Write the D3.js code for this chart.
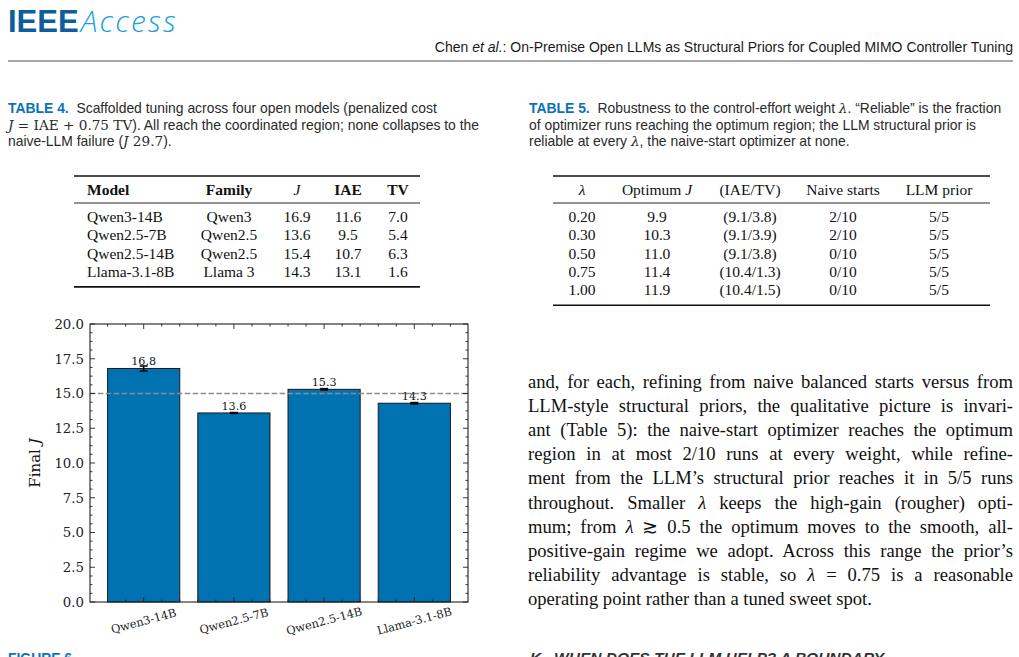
<!DOCTYPE html>
<html><head><meta charset="utf-8">
<script src="https://cdn.jsdelivr.net/npm/d3@7"></script>
<style>
html,body{margin:0;padding:0;background:#fff;overflow:hidden;}
svg{display:block;}
</style></head><body>
<svg id="page" width="1019" height="657"></svg>
<script>
// ---------- data ----------
const models = ["Qwen3-14B", "Qwen2.5-7B", "Qwen2.5-14B", "Llama-3.1-8B"];
const meanJ = [16.8, 13.6, 15.3, 14.3];
const stdJ = [0.18, 0.03, 0.05, 0.05];
const refJ = 15.0;
const yTicks = [0, 2.5, 5, 7.5, 10, 12.5, 15, 17.5, 20];
const yLabel = "Final ";

const t4Header = ["Model", "Family", "J", "IAE", "TV"];
const t4Model = ["Qwen3-14B", "Qwen2.5-7B", "Qwen2.5-14B", "Llama-3.1-8B"];
const t4Family = ["Qwen3", "Qwen2.5", "Qwen2.5", "Llama 3"];
const t4J = ["16.9", "13.6", "15.4", "14.3"];
const t4IAE = ["11.6", "9.5", "10.7", "13.1"];
const t4TV = ["7.0", "5.4", "6.3", "1.6"];

const t5Header = ["λ", "Optimum J", "(IAE/TV)", "Naive starts", "LLM prior"];
const t5Lambda = ["0.20", "0.30", "0.50", "0.75", "1.00"];
const t5OptJ = ["9.9", "10.3", "11.0", "11.4", "11.9"];
const t5IAETV = ["(9.1/3.8)", "(9.1/3.9)", "(9.1/3.8)", "(10.4/1.3)", "(10.4/1.5)"];
const t5Naive = ["2/10", "2/10", "0/10", "0/10", "0/10"];
const t5LLM = ["5/5", "5/5", "5/5", "5/5", "5/5"];

const headerTitle = [["Chen ", ""], ["et al.", "i"], [": On-Premise Open LLMs as Structural Priors for Coupled MIMO Controller Tuning", ""]];

const paragraph = [
  [["and, for each, refining from naive balanced starts versus from", ""]],
  [["LLM-style structural priors, the qualitative picture is invari-", ""]],
  [["ant (Table 5): the naive-start optimizer reaches the optimum", ""]],
  [["region in at most 2/10 runs at every weight, while refine-", ""]],
  [["ment from the LLM’s structural prior reaches it in 5/5 runs", ""]],
  [["throughout. Smaller ", ""], ["λ", "i"], [" keeps the high-gain (rougher) opti-", ""]],
  [["mum; from ", ""], ["λ", "i"], [" ≳ 0.5 the optimum moves to the smooth, all-", ""]],
  [["positive-gain regime we adopt. Across this range the prior’s", ""]],
  [["reliability advantage is stable, so ", ""], ["λ", "i"], [" = 0.75 is a reasonable", ""]],
  [["operating point rather than a tuned sweet spot.", ""]]
];

// ---------- page ----------
const svg = d3.select("#page");
const SANS = "'Liberation Sans', Arial, Helvetica, sans-serif";
const SERIF = "'Liberation Serif', 'Times New Roman', serif";
const CHART = "'DejaVu Serif', serif";
const BLUE = "#0b72b9";
const TXT = "#222";

function richText(g, x, y, segs, opts) {
  const t = g.append("text").attr("x", x).attr("y", y)
    .attr("font-family", opts.family).attr("font-size", opts.size)
    .attr("fill", opts.fill || TXT).attr("text-anchor", opts.anchor || "start")
    .style("white-space", "pre");
  segs.forEach(s => {
    const sp = t.append("tspan").text(s[0]);
    const st = s[1] || "";
    if (st.includes("i")) sp.attr("font-style", "italic");
    if (st.includes("b")) sp.attr("font-weight", "bold");
    if (st.includes("B")) sp.attr("fill", BLUE).attr("font-weight", "bold");
    if (st.includes("m")) sp.attr("font-family", CHART).attr("font-size", opts.size * 0.98);
  });
  return t;
}

// logo
const logo = svg.append("text").attr("x", 8).attr("y", 32).style("white-space", "pre");
logo.append("tspan").text("IEEE").attr("font-family", SANS).attr("font-weight", "bold")
  .attr("font-size", 31).attr("fill", "#0c5e9c");
logo.append("tspan").text("Access").attr("font-family", "'Open Sans', Arial, sans-serif").attr("font-weight", 300)
  .attr("font-style", "italic").attr("font-size", 30).attr("fill", "#1aa0dc").attr("dx", 2).attr("letter-spacing", 2.2);

// running header
richText(svg, 1013, 52, headerTitle, {family: SANS, size: 14, anchor: "end", fill: "#1a1a1a"});
svg.append("line").attr("x1", 8).attr("x2", 1013).attr("y1", 61).attr("y2", 61)
  .attr("stroke", "#555").attr("stroke-width", 1.2);

// captions
const cap4 = [
  [["TABLE 4.", "B"], ["  Scaffolded tuning across four open models (penalized cost", ""]],
  [["J", "im"], [" = IAE + 0.75 TV", "m"], ["). All reach the coordinated region; none collapses to the", ""]],
  [["naive-LLM failure (", ""], ["J", "im"], [" 29.7", "m"], [").", ""]]
];
const cap5 = [
  [["TABLE 5.", "B"], ["  Robustness to the control-effort weight ", ""], ["λ", "im"], [". “Reliable” is the fraction", ""]],
  [["of optimizer runs reaching the optimum region; the LLM structural prior is", ""]],
  [["reliable at every ", ""], ["λ", "im"], [", the naive-start optimizer at none.", ""]]
];
cap4.forEach((l, i) => richText(svg, 8, 113 + i * 16.7, l, {family: SANS, size: 13.9, fill: "#2a2a2a"}));
cap5.forEach((l, i) => richText(svg, 529, 113 + i * 16.7, l, {family: SANS, size: 13.9, fill: "#2a2a2a"}));

// tables
function drawTable(x0, x1, cols, header, rows, anchors) {
  const g = svg.append("g");
  const top = 176, mid = 203, rowY0 = 222, rowStep = 18.3;
  const bottom = rowY0 + (rows.length - 1) * rowStep + 10;
  g.append("line").attr("x1", x0).attr("x2", x1).attr("y1", top).attr("y2", top).attr("stroke", "#111").attr("stroke-width", 1.6);
  g.append("line").attr("x1", x0).attr("x2", x1).attr("y1", mid).attr("y2", mid).attr("stroke", "#111").attr("stroke-width", 0.9);
  g.append("line").attr("x1", x0).attr("x2", x1).attr("y1", bottom).attr("y2", bottom).attr("stroke", "#111").attr("stroke-width", 1.6);
  header.forEach((h, j) => richText(g, cols[j], 195, h, {family: SERIF, size: 15.5, anchor: anchors[j], fill: "#111"}));
  rows.forEach((r, i) => r.forEach((c, j) =>
    richText(g, cols[j], rowY0 + i * rowStep, [[c, ""]], {family: SERIF, size: 15.5, anchor: anchors[j], fill: "#111"})));
}
drawTable(74, 420, [87, 229, 297, 348, 398],
  [[[t4Header[0], "b"]], [[t4Header[1], "b"]], [[t4Header[2], "i"]], [[t4Header[3], "b"]], [[t4Header[4], "b"]]],
  t4Model.map((m, i) => [m, t4Family[i], t4J[i], t4IAE[i], t4TV[i]]),
  ["start", "middle", "middle", "middle", "middle"]);
drawTable(553, 990, [582, 657, 750, 843, 939],
  [[[t5Header[0], "i"]], [["Optimum ", ""], ["J", "i"]], [[t5Header[2], ""]], [[t5Header[3], ""]], [[t5Header[4], ""]]],
  t5Lambda.map((l, i) => [l, t5OptJ[i], t5IAETV[i], t5Naive[i], t5LLM[i]]),
  ["middle", "middle", "middle", "middle", "middle"]);

// paragraph (justified)
const PX0 = 528, PX1 = 1013;
paragraph.forEach((l, i) => {
  const t = richText(svg, PX0, 388 + i * 24.1, l, {family: SERIF, size: 18.6, fill: "#111"});
  if (i < paragraph.length - 1) {
    const natural = t.node().getComputedTextLength();
    const nSpaces = l.map(s => s[0]).join("").split(" ").length - 1;
    t.style("word-spacing", ((PX1 - PX0 - natural) / nSpaces) + "px");
  }
});

// cut-off bottom texts (cut by the page edge, as in the source)
richText(svg, 8, 663, [["FIGURE 6.", "B"]], {family: SANS, size: 13.9});
richText(svg, 530, 663, [["K.  WHEN DOES THE LLM HELP? A BOUNDARY", "ib"]], {family: SANS, size: 15.5, fill: "#333"});

// ---------- chart ----------
const L = 90, R = 468, T = 324, B = 602;
const x = d3.scaleLinear().domain([-0.595, 3.595]).range([L, R]);
const y = d3.scaleLinear().domain([0, 20]).range([B, T]);
const barW = 0.8;
const cg = svg.append("g").attr("font-family", CHART);

cg.selectAll("rect.bar").data(meanJ).join("rect").attr("class", "bar")
  .attr("x", (d, i) => x(i - barW / 2)).attr("width", x(barW) - x(0))
  .attr("y", d => y(d)).attr("height", d => y(0) - y(d))
  .attr("fill", "#0072b2").attr("stroke", "#1a1a1a").attr("stroke-width", 1);

// error bars
const eb = cg.selectAll("g.eb").data(meanJ).join("g").attr("class", "eb");
eb.append("line").attr("x1", (d, i) => x(i)).attr("x2", (d, i) => x(i))
  .attr("y1", (d, i) => y(d - stdJ[i])).attr("y2", (d, i) => y(d + stdJ[i])).attr("stroke", "#000").attr("stroke-width", 1.5);
[-1, 1].forEach(sg => eb.append("line")
  .attr("x1", (d, i) => x(i) - 4).attr("x2", (d, i) => x(i) + 4)
  .attr("y1", (d, i) => y(d + sg * stdJ[i])).attr("y2", (d, i) => y(d + sg * stdJ[i]))
  .attr("stroke", "#000").attr("stroke-width", 1.5));

// reference line
cg.append("line").attr("x1", L).attr("x2", R).attr("y1", y(refJ)).attr("y2", y(refJ))
  .attr("stroke", "#8c8c8c").attr("stroke-width", 1.5).attr("stroke-dasharray", "5.5,2.4");

// value labels
cg.selectAll("text.val").data(meanJ).join("text").attr("class", "val")
  .attr("x", (d, i) => x(i)).attr("y", d => y(d) - 3).attr("text-anchor", "middle")
  .attr("font-size", 11.2).attr("fill", "#111").text(d => d.toFixed(1));

// ticks
const majorX = models.map((m, i) => i);
const minorX = d3.range(-0.4, 3.41, 0.2).map(v => Math.round(v * 10) / 10).filter(v => !Number.isInteger(v));
const minorY = d3.range(0, 20.001, 0.625).filter(v => !yTicks.some(t => Math.abs(t - v) < 1e-6));
const tk = cg.append("g").attr("stroke", "#222").attr("stroke-width", 0.9);
function xt(vals, len) {
  vals.forEach(v => {
    tk.append("line").attr("x1", x(v)).attr("x2", x(v)).attr("y1", B).attr("y2", B - len);
    tk.append("line").attr("x1", x(v)).attr("x2", x(v)).attr("y1", T).attr("y2", T + len);
  });
}
function yt(vals, len) {
  vals.forEach(v => {
    tk.append("line").attr("x1", L).attr("x2", L + len).attr("y1", y(v)).attr("y2", y(v));
    tk.append("line").attr("x1", R).attr("x2", R - len).attr("y1", y(v)).attr("y2", y(v));
  });
}
xt(majorX, 5); xt(minorX, 2.5); yt(yTicks, 5); yt(minorY, 2.5);

// frame
cg.append("rect").attr("x", L).attr("y", T).attr("width", R - L).attr("height", B - T)
  .attr("fill", "none").attr("stroke", "#222").attr("stroke-width", 1.1);

// y tick labels
cg.selectAll("text.yt").data(yTicks).join("text").attr("class", "yt")
  .attr("x", L - 6).attr("y", d => y(d)).attr("dy", "0.36em").attr("text-anchor", "end")
  .attr("font-size", 13.3).attr("fill", "#222").text(d => d.toFixed(1));

// x tick labels
cg.selectAll("text.xt").data(models).join("text").attr("class", "xt")
  .attr("transform", (d, i) => `translate(${x(i)},${621}) rotate(-15)`)
  .attr("text-anchor", "middle").attr("dy", "0.35em")
  .attr("font-size", 11.4).attr("fill", "#222").text(d => d);

// y label
const yl = cg.append("text").attr("transform", `translate(40,${(T + B) / 2}) rotate(-90)`)
  .attr("text-anchor", "middle").attr("font-size", 15).attr("fill", "#111");
yl.append("tspan").text(yLabel).style("white-space", "pre");
yl.append("tspan").text("J").attr("font-style", "italic");
</script>
</body></html>
